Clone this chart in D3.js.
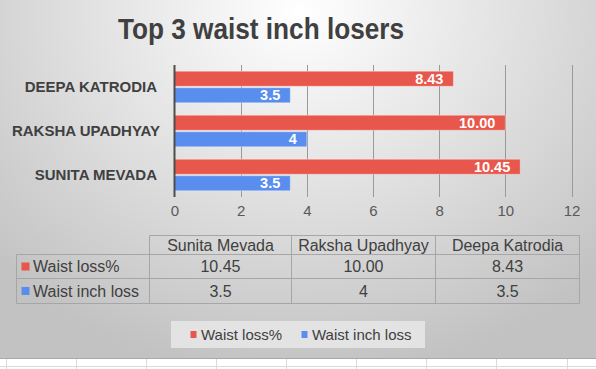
<!DOCTYPE html>
<html><head><meta charset="utf-8">
<script src="https://cdn.jsdelivr.net/npm/d3@7"></script>
<style>
html,body{margin:0;padding:0;background:#fff;}
svg{display:block;font-family:"Liberation Sans",Arial,sans-serif;}
</style></head>
<body><svg id="c" width="596" height="369"></svg>
<script>
const categories = ["Sunita Mevada", "Raksha Upadhyay", "Deepa Katrodia"];
const waistLossPct = [10.45, 10.00, 8.43];
const waistInchLoss = [3.5, 4, 3.5];
const seriesNames = ["Waist loss%", "Waist inch loss"];
const seriesColors = ["#E8574B", "#5A8EEE"];
const xTicks = [0, 2, 4, 6, 8, 10, 12];
const titleText = "Top 3 waist inch losers";

const svg = d3.select("#c");
const W = 596, H = 358;

// background
const defs = svg.append("defs");
const rg = defs.append("radialGradient").attr("id","bg").attr("gradientUnits","userSpaceOnUse")
  .attr("cx",300).attr("cy",10).attr("r",430)
  .attr("gradientTransform","translate(300,10) scale(1,0.85) translate(-300,-10)");
rg.append("stop").attr("offset","0").attr("stop-color","#ffffff");
rg.append("stop").attr("offset","0.45").attr("stop-color","#e4e4e4");
rg.append("stop").attr("offset","1").attr("stop-color","#c2c2c2");
svg.append("rect").attr("x",0).attr("y",0).attr("width",W).attr("height",H).attr("fill","url(#bg)");

// spreadsheet remnants below chart
svg.append("rect").attr("x",0).attr("y",H).attr("width",W).attr("height",369-H).attr("fill","#ffffff");
svg.append("line").attr("x1",0).attr("x2",W).attr("y1",H+0.5).attr("y2",H+0.5).attr("stroke","#a8a8a8");
svg.append("line").attr("x1",0).attr("x2",W).attr("y1",366.5).attr("y2",366.5).attr("stroke","#dadada");
d3.range(0, 9).forEach(i => {
  const x = Math.round(5.7 + i*70.1) + 0.5;
  svg.append("line").attr("x1",x).attr("x2",x).attr("y1",H+1).attr("y2",369).attr("stroke","#dadada");
});

// title
svg.append("text").attr("x",261).attr("y",39).attr("text-anchor","middle")
  .attr("font-size",30).attr("font-weight","bold").attr("fill","#404040")
  .attr("textLength",286).attr("lengthAdjust","spacingAndGlyphs").text(titleText);

// scales
const x = d3.scaleLinear().domain([0, 12]).range([174.5, 571.5]);
const yOrder = categories.slice().reverse(); // top to bottom
const y = d3.scaleBand().domain(yOrder).range([65, 197]).padding(0);
const ySub = d3.scaleBand().domain(seriesNames).range([0, y.bandwidth()]).paddingInner(0.09).paddingOuter(0.378);

// gridlines
svg.append("g").selectAll("line").data(xTicks.filter(d => d > 0)).join("line")
  .attr("x1", d => Math.round(x(d)) + 0.5).attr("x2", d => Math.round(x(d)) + 0.5)
  .attr("y1", 65).attr("y2", 197).attr("stroke", "#9a9a9a").attr("stroke-width", 1);

// x axis tick labels via d3 axis
const xAxis = svg.append("g").attr("transform","translate(0,205)")
  .call(d3.axisBottom(x).tickValues(xTicks).tickSize(0).tickPadding(0).tickFormat(d3.format("d")));
xAxis.select(".domain").remove();
xAxis.selectAll("text").attr("font-size",15).attr("fill","#595959").attr("font-family","Liberation Sans, Arial, sans-serif").attr("dy","0.71em");

// bars
const rows = categories.map((c, i) => ({cat: c, vals: [waistLossPct[i], waistInchLoss[i]]}));
const fmts = [d3.format(".2f"), d => String(d)];
const g = svg.append("g");
rows.forEach(r => {
  r.vals.forEach((v, j) => {
    const yy = y(r.cat) + ySub(seriesNames[j]);
    g.append("rect").attr("x", x(0)).attr("y", yy).attr("width", x(v) - x(0)).attr("height", ySub.bandwidth())
      .attr("fill", seriesColors[j]).attr("stroke", "rgba(255,255,255,0.35)").attr("stroke-width", 1);
    g.append("text").attr("x", x(v) - 10).attr("y", yy + ySub.bandwidth()/2).attr("dy","0.36em")
      .attr("text-anchor","end").attr("font-size",14.5).attr("font-weight","bold").attr("fill","#ffffff")
      .text(fmts[j](v));
  });
});

// axis line at zero
svg.append("line").attr("x1", x(0)).attr("x2", x(0)).attr("y1", 65).attr("y2", 197)
  .attr("stroke", "#4d4d4d").attr("stroke-width", 2);

// category labels
const yAxis = svg.append("g").attr("transform","translate(157,0)")
  .call(d3.axisLeft(y).tickSize(0).tickPadding(0).tickFormat(d => d.toUpperCase()));
yAxis.select(".domain").remove();
yAxis.selectAll("text").attr("font-size",15).attr("font-weight","bold").attr("fill","#404040")
  .attr("font-family","Liberation Sans, Arial, sans-serif");
yAxis.selectAll(".tick").filter(d => d === "Raksha Upadhyay").select("text").attr("x", 3);

// data table
const tColX = [16.5, 149.5, 291.5, 435.5, 579.5];
const tRowY = [235.5, 254.5, 278.5, 303.5];
const tb = svg.append("g");
const border = "#a6a6a6";
// header cells (only data columns)
tb.append("line").attr("x1", tColX[1]).attr("x2", tColX[4]).attr("y1", tRowY[0]).attr("y2", tRowY[0]).attr("stroke", border);
[1,2,3,4].forEach(k => tb.append("line").attr("x1", tColX[k]).attr("x2", tColX[k]).attr("y1", tRowY[0]).attr("y2", tRowY[3]).attr("stroke", border));
tb.append("line").attr("x1", tColX[0]).attr("x2", tColX[0]).attr("y1", tRowY[1]).attr("y2", tRowY[3]).attr("stroke", border);
[1,2,3].forEach(k => tb.append("line").attr("x1", tColX[0]).attr("x2", tColX[4]).attr("y1", tRowY[k]).attr("y2", tRowY[k]).attr("stroke", border));
categories.forEach((c, i) => {
  tb.append("text").attr("x", (tColX[i+1] + tColX[i+2]) / 2).attr("y", (tRowY[0] + tRowY[1]) / 2).attr("dy","0.36em")
    .attr("text-anchor","middle").attr("font-size",16).attr("fill","#404040").text(c);
});
const tableVals = [waistLossPct.map(fmts[0]), waistInchLoss.map(fmts[1])];
seriesNames.forEach((s, j) => {
  const cy = (tRowY[j+1] + tRowY[j+2]) / 2;
  tb.append("rect").attr("x", 21.5).attr("y", cy - 4).attr("width", 8).attr("height", 8).attr("fill", seriesColors[j]);
  tb.append("text").attr("x", 33).attr("y", cy).attr("dy","0.36em").attr("font-size",16).attr("fill","#404040").text(s);
  tableVals[j].forEach((v, i) => {
    tb.append("text").attr("x", (tColX[i+1] + tColX[i+2]) / 2).attr("y", cy).attr("dy","0.36em")
      .attr("text-anchor","middle").attr("font-size",16).attr("fill","#404040").text(v);
  });
});

// legend
const lg = svg.append("g");
lg.append("rect").attr("x", 171).attr("y", 321).attr("width", 254).attr("height", 27).attr("fill", "#e3e3e3");
const legX = [190.5, 301.5];
seriesNames.forEach((s, j) => {
  lg.append("rect").attr("x", legX[j]).attr("y", 331).attr("width", 6).attr("height", 7).attr("fill", seriesColors[j]);
  lg.append("text").attr("x", legX[j] + 10.5).attr("y", 334.5).attr("dy","0.36em").attr("font-size",15).attr("fill","#404040").text(s);
});
</script></body></html>
